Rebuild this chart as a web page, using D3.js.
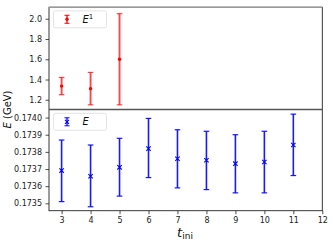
<!DOCTYPE html>
<html>
<head>
<meta charset="utf-8">
<script src="https://cdn.jsdelivr.net/npm/d3@7"></script>
<style>
  body { margin: 0; background: white; }
  text { font-family: 'DejaVu Sans', sans-serif; }
</style>
</head>
<body>
<div class="canvas"></div>
<script>
// data
const tIni = [3, 4, 5, 6, 7, 8, 9, 10, 11];
const e1T = [3, 4, 5];
const e1Val = [1.335, 1.31, 1.60];
const e1Lo = [1.25, 1.15, 1.15];
const e1Hi = [1.42, 1.47, 2.05];
const eVal = [0.173691, 0.173658, 0.173710, 0.173819, 0.173760, 0.173751, 0.173731, 0.173741, 0.173840];
const eLo = [0.173510, 0.173480, 0.173542, 0.173650, 0.173590, 0.173580, 0.173561, 0.173561, 0.173662];
const eHi = [0.173869, 0.173840, 0.173879, 0.173995, 0.173929, 0.173920, 0.173900, 0.173920, 0.174020];
const xTicks = [3, 4, 5, 6, 7, 8, 9, 10, 11, 12];
const topTicks = [1.2, 1.4, 1.6, 1.8, 2.0];
const botTicks = [0.1735, 0.1736, 0.1737, 0.1738, 0.1739, 0.1740];

const width = 333, height = 244;
const pLeft = 49, pRight = 322.3, pTop = 7.3, pMid = 109.5, pBottom = 210.7;

const svg = d3.select('.canvas').append('svg')
    .attr('width', width)
    .attr('height', height);

const x = d3.scaleLinear().domain([2.565, 12]).range([pLeft, pRight]);
const yTop = d3.scaleLinear().domain([1.104, 2.113]).range([pMid, pTop]);
const yBot = d3.scaleLinear().domain([0.173457, 0.174047]).range([pBottom, pMid]);

function styleAxis(g) {
    g.select('.domain').remove();
    g.selectAll('.tick line').attr('stroke', '#222').attr('stroke-width', 0.8);
    g.selectAll('.tick text').attr('font-size', '8px').attr('fill', '#222')
        .attr('font-family', 'DejaVu Sans, sans-serif');
}

// Axes
svg.append('g')
    .attr('transform', `translate(${pLeft}, 0)`)
    .call(d3.axisLeft(yTop).tickValues(topTicks).tickFormat(d3.format('.1f')).tickSize(3.5).tickPadding(3.5))
    .call(styleAxis);

svg.append('g')
    .attr('transform', `translate(${pLeft}, 0)`)
    .call(d3.axisLeft(yBot).tickValues(botTicks).tickFormat(d3.format('.4f')).tickSize(3.5).tickPadding(3.5))
    .call(styleAxis);

svg.append('g')
    .attr('transform', `translate(0, ${pBottom})`)
    .call(d3.axisBottom(x).tickValues(xTicks).tickFormat(d3.format('d')).tickSize(3.5).tickPadding(3))
    .call(styleAxis);

// Error bars
function drawErr(g, xs, lo, hi, y, color, opacity, sw) {
    const grp = g.append('g').attr('stroke', color).attr('stroke-opacity', opacity);
    xs.forEach((t, i) => {
        grp.append('line')
            .attr('x1', x(t)).attr('x2', x(t))
            .attr('y1', y(lo[i])).attr('y2', y(hi[i]))
            .attr('stroke-width', sw);
        [lo[i], hi[i]].forEach(v => {
            grp.append('line')
                .attr('x1', x(t) - 2.8).attr('x2', x(t) + 2.8)
                .attr('y1', y(v)).attr('y2', y(v))
                .attr('stroke-width', 1.2);
        });
    });
}

drawErr(svg, e1T, e1Lo, e1Hi, yTop, 'red', 0.72, 1.9);
svg.append('g').selectAll('circle')
    .data(e1Val)
    .enter()
    .append('circle')
    .attr('cx', (d, i) => x(e1T[i]))
    .attr('cy', d => yTop(d))
    .attr('r', 1.7)
    .attr('fill', 'red');

drawErr(svg, tIni, eLo, eHi, yBot, 'blue', 0.9, 1.6);
svg.append('g').selectAll('path')
    .data(eVal)
    .enter()
    .append('path')
    .attr('d', (d, i) => {
        const cx = x(tIni[i]), cy = yBot(d), s = 2.2;
        return `M${cx - s},${cy - s}L${cx + s},${cy + s}M${cx - s},${cy + s}L${cx + s},${cy - s}`;
    })
    .attr('stroke', 'blue')
    .attr('stroke-width', 1.1);

// Frames
svg.append('rect')
    .attr('x', pLeft).attr('y', pTop)
    .attr('width', pRight - pLeft).attr('height', pBottom - pTop)
    .attr('fill', 'none').attr('stroke', '#222').attr('stroke-width', 0.9);
svg.append('line')
    .attr('x1', pLeft).attr('x2', pRight).attr('y1', pTop).attr('y2', pTop)
    .attr('stroke', '#999').attr('stroke-width', 1.6);
svg.append('line')
    .attr('x1', pLeft).attr('x2', pRight).attr('y1', pMid).attr('y2', pMid)
    .attr('stroke', '#555').attr('stroke-width', 1.4);

// Legends
function legend(y0, color, label, sup, marker) {
    const g = svg.append('g').attr('transform', `translate(53.5, ${y0})`);
    g.append('rect')
        .attr('width', 53).attr('height', 17)
        .attr('rx', 2)
        .attr('fill', 'white').attr('stroke', '#ddd').attr('stroke-width', 0.8);
    const mx = 13.5, my = 8.5;
    g.append('line').attr('x1', mx).attr('x2', mx).attr('y1', my - 4).attr('y2', my + 4)
        .attr('stroke', color).attr('stroke-width', 1.6).attr('stroke-opacity', 0.8);
    [my - 4, my + 4].forEach(v => {
        g.append('line').attr('x1', mx - 2.5).attr('x2', mx + 2.5).attr('y1', v).attr('y2', v)
            .attr('stroke', color).attr('stroke-width', 1);
    });
    if (marker === 'dot') {
        g.append('circle').attr('cx', mx).attr('cy', my).attr('r', 1.7).attr('fill', color);
    } else {
        const s = 2;
        g.append('path')
            .attr('d', `M${mx - s},${my - s}L${mx + s},${my + s}M${mx - s},${my + s}L${mx + s},${my - s}`)
            .attr('stroke', color).attr('stroke-width', 1.1);
    }
    const t = g.append('text')
        .attr('x', 29).attr('y', my + 3.7)
        .attr('font-size', '10px')
        .attr('font-style', 'italic')
        .attr('fill', '#111')
        .text(label);
    if (sup) {
        t.append('tspan').attr('font-size', '7px').attr('font-style', 'normal')
            .attr('dy', -4).text(sup);
    }
}
legend(10.8, 'red', 'E', '1', 'dot');
legend(113.3, 'blue', 'E', null, 'x');

// Axis labels
const yl = svg.append('text')
    .attr('transform', `translate(10.5, ${pMid}) rotate(-90)`)
    .attr('text-anchor', 'middle')
    .attr('font-size', '10px')
    .attr('fill', '#111');
yl.append('tspan').attr('font-style', 'italic').text('E');
yl.append('tspan').text(' (GeV)');

const xl = svg.append('text')
    .attr('x', 185)
    .attr('y', 236.5)
    .attr('text-anchor', 'middle')
    .attr('fill', '#111');
xl.append('tspan').attr('font-size', '13px').attr('font-style', 'italic').text('t');
xl.append('tspan').attr('font-size', '9px').attr('dy', 2).text('ini');
</script>
</body>
</html>
